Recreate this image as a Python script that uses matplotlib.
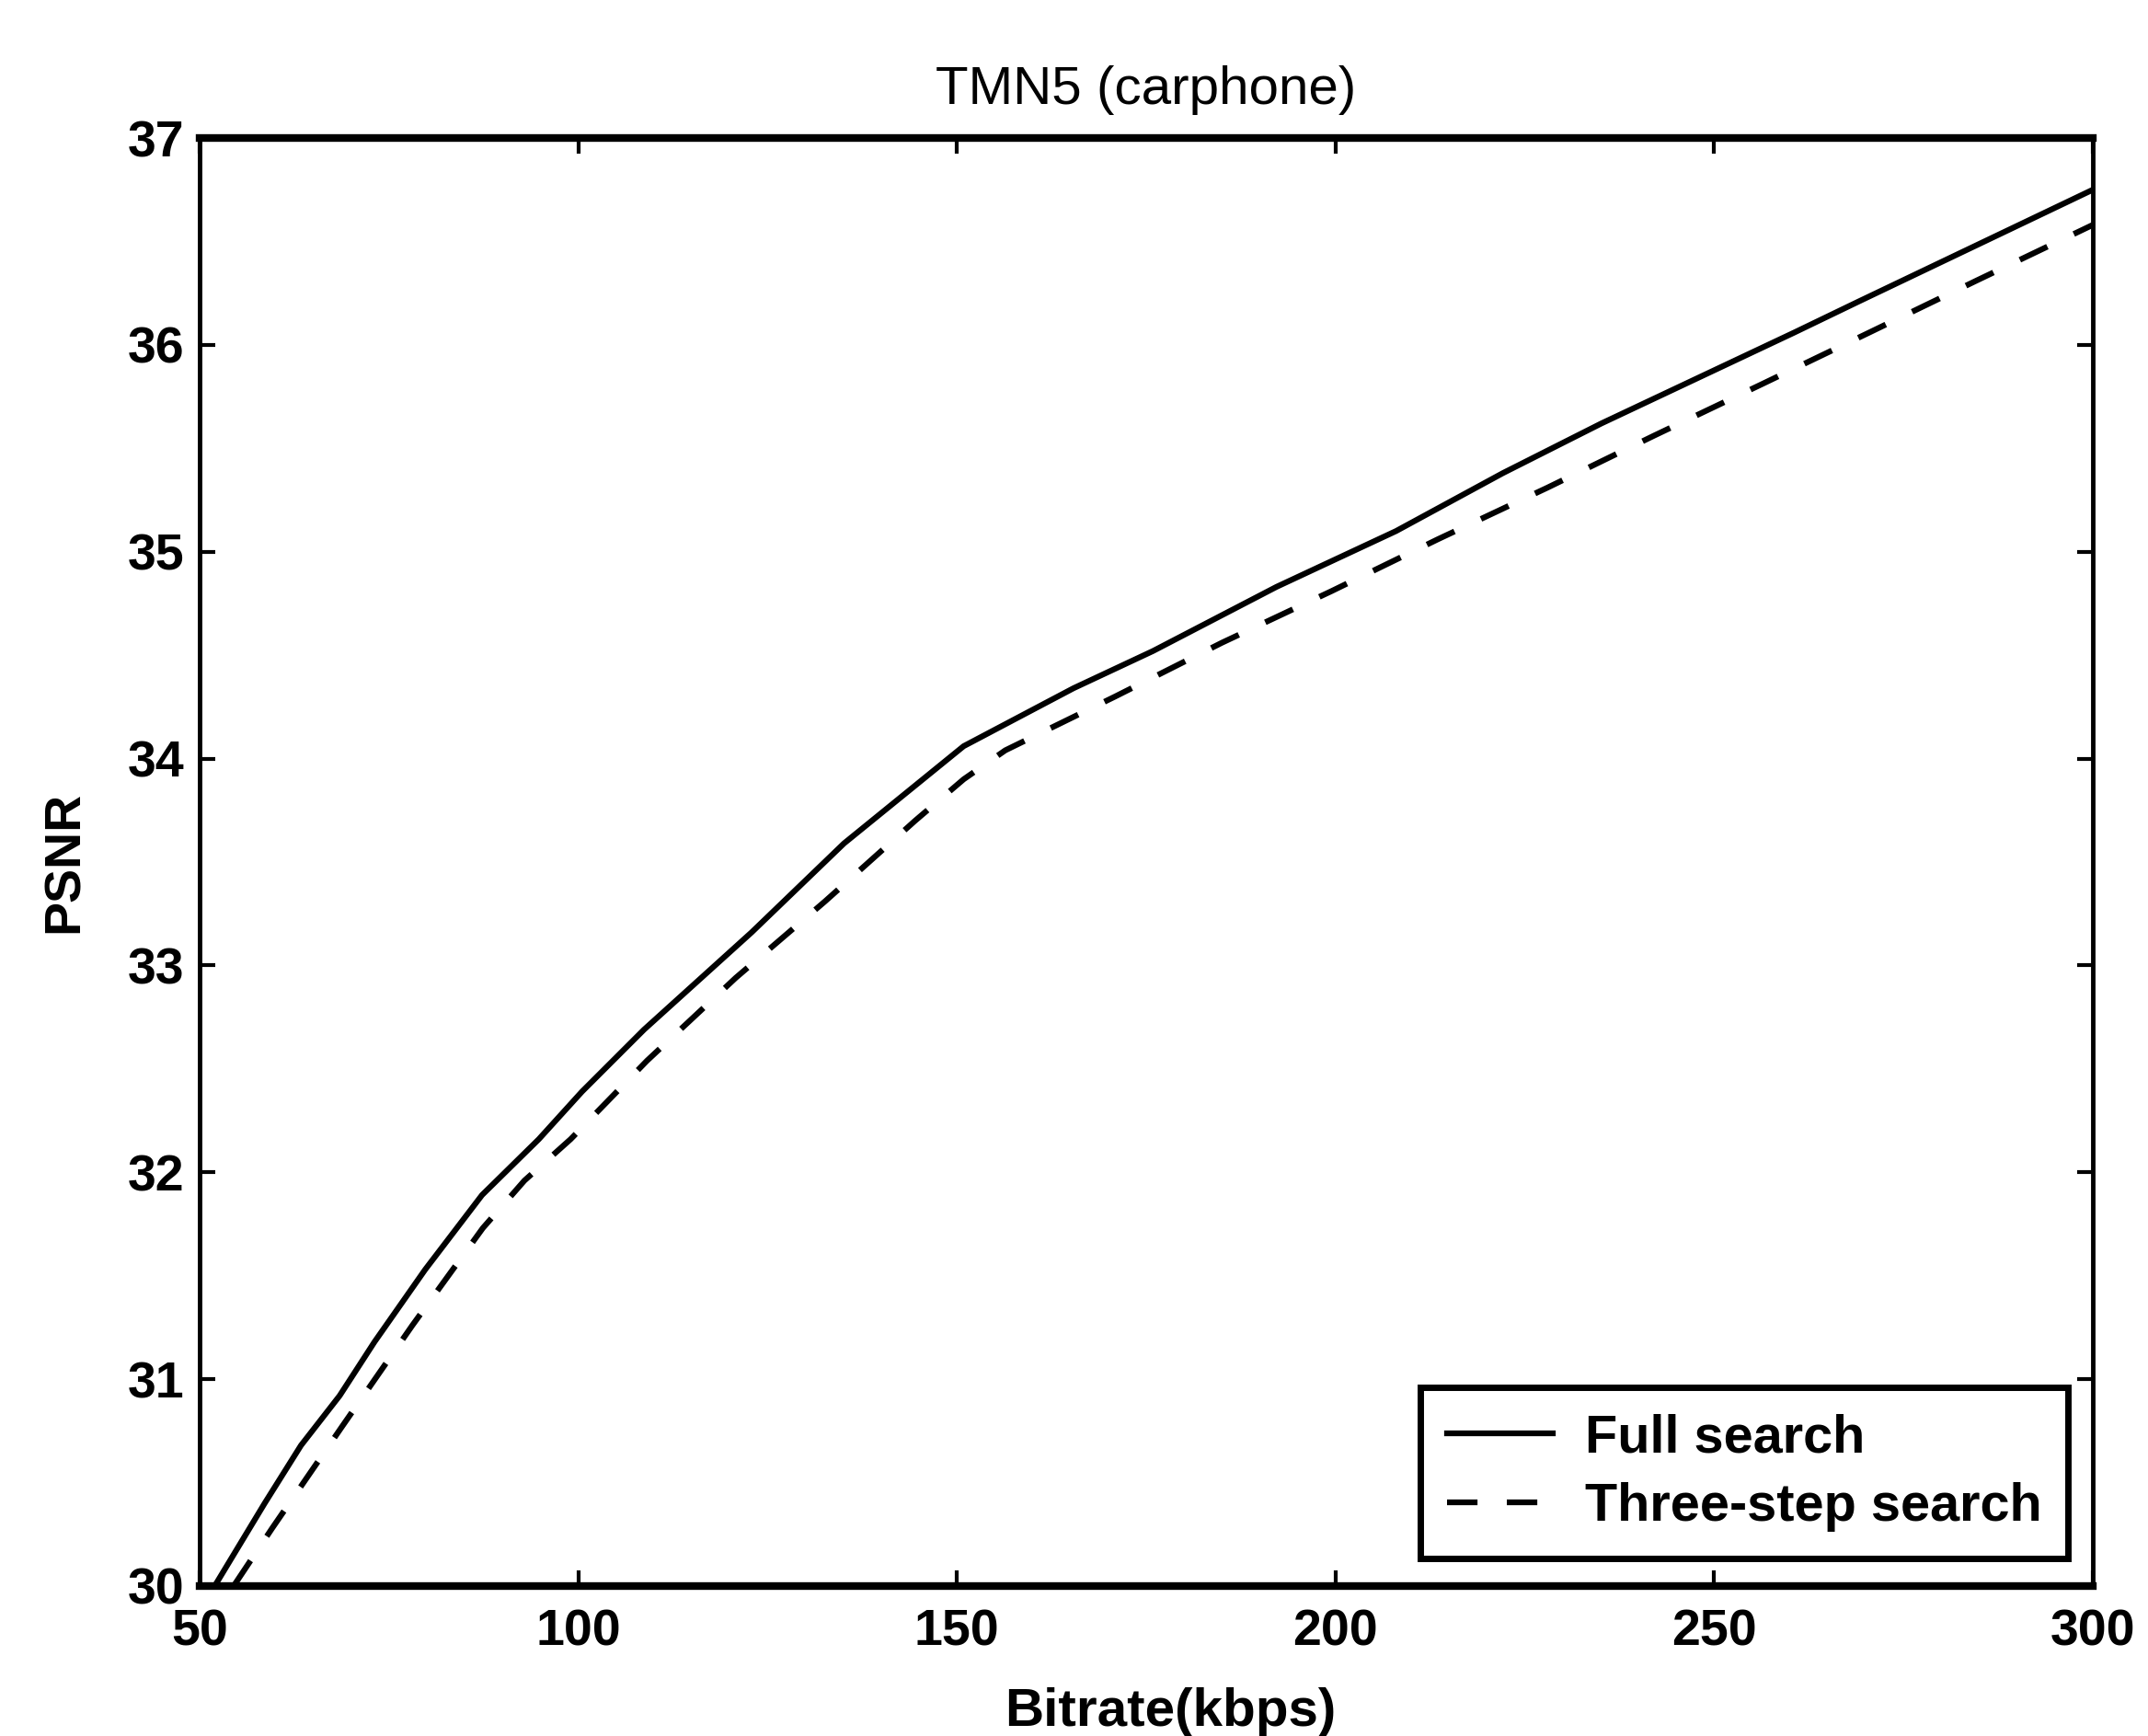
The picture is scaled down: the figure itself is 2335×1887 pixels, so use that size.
import matplotlib
matplotlib.use("Agg")
import matplotlib.pyplot as plt

plt.rcParams['font.family'] = ['Liberation Sans', 'DejaVu Sans']

# Full search rate-distortion curve (bitrate in kbps, PSNR in dB)
full_rate = [52, 58.6, 63.4, 68.5, 73.1, 79.8, 87.3, 94.8, 100.5, 108.7, 122.9, 135.1,
             150.9, 165.4, 175.9, 192.2, 208.0, 222.1, 235.1, 260.6, 269.1, 300]
full_psnr = [30.0, 30.40, 30.68, 30.92, 31.18, 31.53, 31.89, 32.16, 32.39, 32.69, 33.16, 33.59,
             34.06, 34.34, 34.52, 34.83, 35.10, 35.38, 35.62, 36.06, 36.21, 36.75]

# Three-step search curve
tss_rate = [54.5, 59.6, 68.8, 78.1, 87.4, 92.9, 99.0, 109.1, 120.8, 132.6, 144.5, 150.9,
            156.4, 170.9, 185.0, 199.5, 213.5, 228.0, 242.0, 256.3, 270.5, 284.6, 300]
tss_psnr = [30.0, 30.28, 30.77, 31.26, 31.73, 31.96, 32.16, 32.54, 32.94, 33.31, 33.70, 33.90,
            34.04, 34.30, 34.56, 34.81, 35.06, 35.31, 35.56, 35.81, 36.06, 36.31, 36.58]

x_ticks = [50, 100, 150, 200, 250, 300]
y_ticks = [30, 31, 32, 33, 34, 35, 36, 37]

fig = plt.figure(figsize=(23.35, 18.87), dpi=100)
ax = fig.add_axes([0.0929, 0.0864, 0.9743 - 0.0929, 0.9205 - 0.0864])

ax.plot(full_rate, full_psnr, color='black', lw=4.5, label='Full search')
ax.plot(tss_rate, tss_psnr, color='black', lw=4.5, linestyle=(0, (5.3, 5.1)),
        label='Three-step search')

ax.set_xlim(50, 300)
ax.set_ylim(30, 37)
ax.set_xticks(x_ticks)
ax.set_yticks(y_ticks)
ax.tick_params(direction='in', length=12, width=3, top=True, right=True,
               labelsize=40, pad=12)
ax.tick_params(axis='x', pad=18)
for lab in ax.get_xticklabels() + ax.get_yticklabels():
    lab.set_fontweight('bold')

for side in ['top', 'bottom']:
    ax.spines[side].set_linewidth(6)
for side in ['left', 'right']:
    ax.spines[side].set_linewidth(3.5)

ax.set_title('TMN5 (carphone)', fontsize=42, pad=27)
ax.set_xlabel('Bitrate(kbps)', fontsize=42, fontweight='bold')
ax.xaxis.set_label_coords(0.513, -0.07)
ax.set_ylabel('PSNR', fontsize=40, fontweight='bold', labelpad=30)

leg = ax.legend(loc='lower right', bbox_to_anchor=(0.987, 0.019), borderaxespad=0,
                fancybox=False, framealpha=1, edgecolor='black',
                prop={'size': 41.5, 'weight': 'bold'}, handlelength=2.0,
                handletextpad=0.6, labelspacing=0.36, borderpad=0.5)
leg.get_frame().set_linewidth(5)

fig.savefig('out.png', dpi=100)
